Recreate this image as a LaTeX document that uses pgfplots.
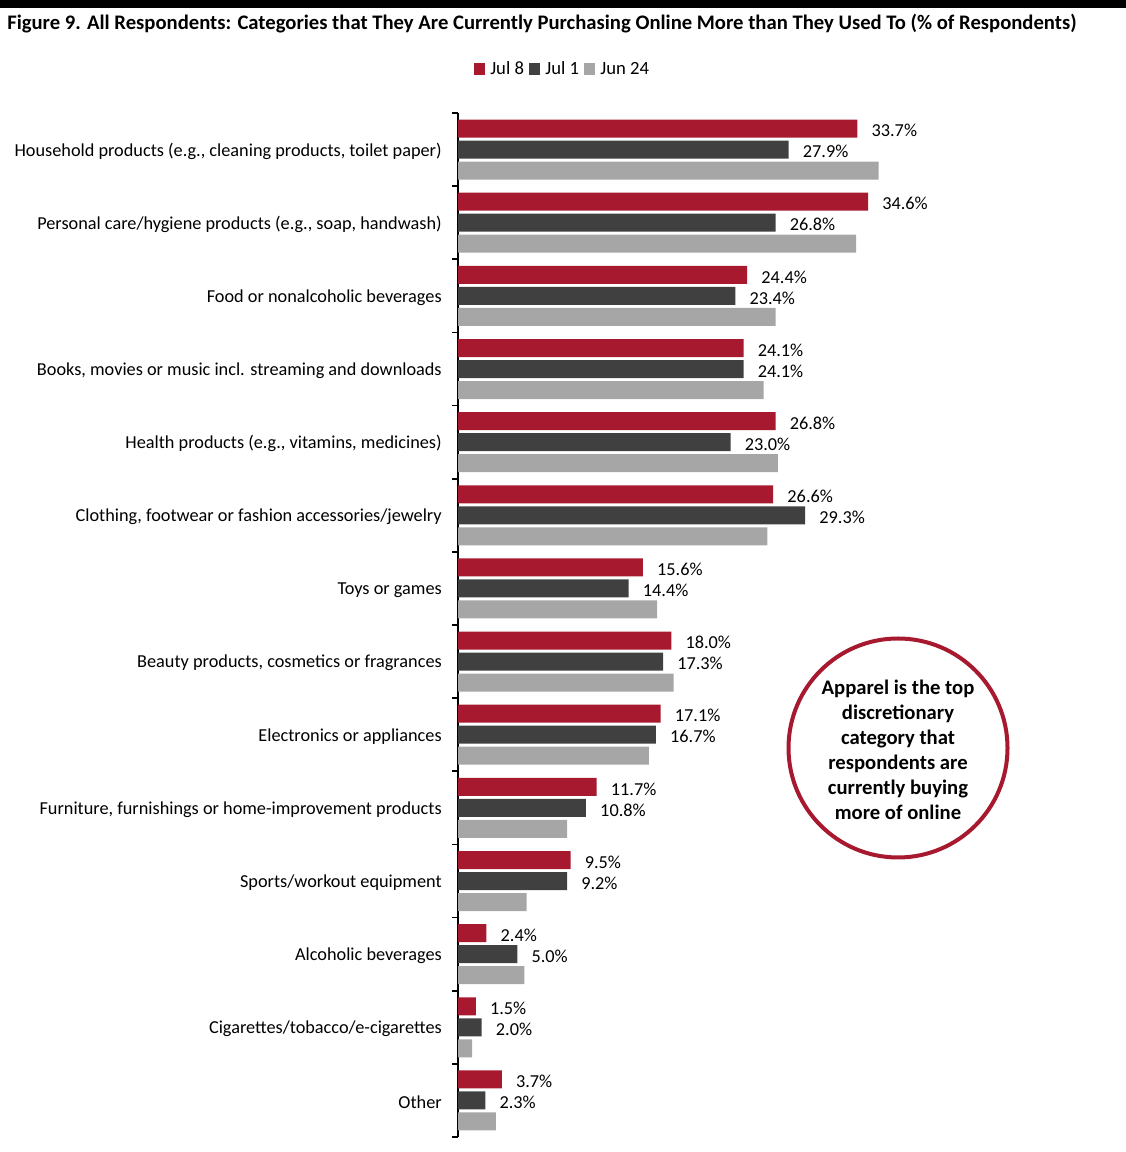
\documentclass[border=0pt]{standalone}
\usepackage{pgfplots}
\pgfplotsset{compat=1.18}
\usepackage{fontspec}
\setmainfont{Carlito}
\definecolor{cred}{RGB}{166,25,46}
\definecolor{cdark}{RGB}{64,64,64}
\definecolor{clight}{RGB}{166,166,166}

\begin{document}
\begin{tikzpicture}[x=0.75pt,y=0.75pt]
\path[use as bounding box] (0,0) rectangle (1126,1152);
\fill[black] (0,1152) rectangle (1126,1144);
\node[anchor=west,inner sep=0pt,font=\fontsize{15.5}{18}\selectfont\bfseries] at (7,1128)
  {Figure 9. All Respondents: Categories that They Are Currently Purchasing Online More than They Used To (\% of Respondents)};

\begin{axis}[
  at={(343.5pt,779.25pt)}, anchor=north west,
  scale only axis, width=426.6pt, height=768pt,
  xbar, bar width=13.5pt,
  xmin=0, xmax=48, ymin=-0.5, ymax=13.5,
  y dir=reverse,
  axis y line*=left, axis x line=none,
  axis line style={line width=1.5pt,-},
  xtick=\empty,
  ytick={0,...,13},
  major tick length=0pt,
  minor ytick={-0.5,0.5,...,13.5},
  minor tick length=4.5pt,
  tick align=outside,
  minor tick style={line width=1.2pt,black},
  yticklabels={
    {Household products (e.g., cleaning products, toilet paper)},
    {Personal care/hygiene products (e.g., soap, handwash)},
    {Food or nonalcoholic beverages},
    {Books, movies or music incl. streaming and downloads},
    {Health products (e.g., vitamins, medicines)},
    {Clothing, footwear or fashion accessories/jewelry},
    {Toys or games},
    {Beauty products, cosmetics or fragrances},
    {Electronics or appliances},
    {Furniture, furnishings or home-improvement products},
    {Sports/workout equipment},
    {Alcoholic beverages},
    {Cigarettes/tobacco/e-cigarettes},
    {Other}},
  yticklabel style={font=\fontsize{13.7}{16}\selectfont, anchor=east, inner sep=0pt, xshift=-12pt, yshift=-1.2pt},
  /pgf/number format/assume math mode=true,
  nodes near coords style={font=\fontsize{13.7}{16}\selectfont, anchor=west, inner sep=0pt, xshift=10.5pt, yshift=-1.5pt},
  legend columns=-1,
  legend style={at={(0.1846,1.043)}, anchor=center, draw=none, fill=none,
    font=\fontsize{14}{16}\selectfont, column sep=2pt},
  legend image code/.code={\fill[#1] (0pt,-4.5pt) rectangle (8pt,4.5pt);},
]
\addplot[fill=cred, draw=none, bar shift=15.75pt, nodes near coords={\pgfmathprintnumber[fixed,fixed zerofill,precision=1]{\pgfplotspointmeta}\%}]
  coordinates {(33.7,0) (34.6,1) (24.4,2) (24.1,3) (26.8,4) (26.6,5) (15.6,6) (18.0,7) (17.1,8) (11.7,9) (9.5,10) (2.4,11) (1.5,12) (3.7,13)};
\addlegendentry{Jul 8}
\addplot[fill=cdark, draw=none, bar shift=0pt, nodes near coords={\pgfmathprintnumber[fixed,fixed zerofill,precision=1]{\pgfplotspointmeta}\%}]
  coordinates {(27.9,0) (26.8,1) (23.4,2) (24.1,3) (23.0,4) (29.3,5) (14.4,6) (17.3,7) (16.7,8) (10.8,9) (9.2,10) (5.0,11) (2.0,12) (2.3,13)};
\addlegendentry{Jul 1}
\addplot[fill=clight, draw=none, bar shift=-15.75pt]
  coordinates {(35.5,0) (33.6,1) (26.8,2) (25.8,3) (27.0,4) (26.1,5) (16.8,6) (18.2,7) (16.1,8) (9.2,9) (5.8,10) (5.6,11) (1.2,12) (3.2,13)};
\addlegendentry{Jun 24}
\end{axis}

\draw[cred, line width=3pt] (898,404) circle (109.5);
\node[align=center, font=\fontsize{15.5}{18.75}\selectfont\bfseries] at (898,402)
  {Apparel is the top\\discretionary\\category that\\respondents are\\currently buying\\more of online};
\end{tikzpicture}
\end{document}
